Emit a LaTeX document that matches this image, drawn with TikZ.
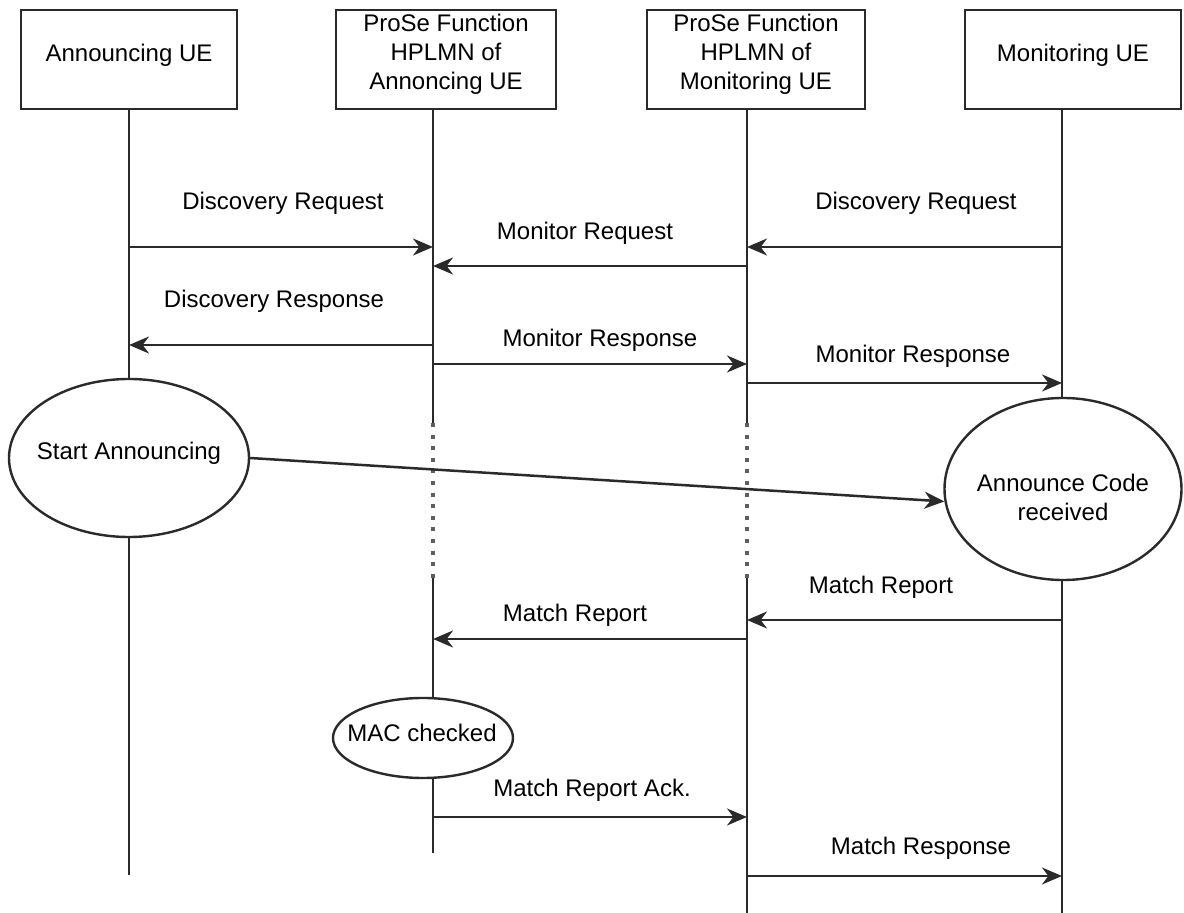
\documentclass[tikz,border=0pt]{standalone}
\usepackage{fontspec}
\setmainfont{Liberation Sans}
\usetikzlibrary{arrows.meta,shapes.geometric}
\definecolor{lc}{HTML}{2A2A2A}
\begin{document}
\begin{tikzpicture}[x=0.5pt,y=-0.5pt,
  txt/.style={font=\fontsize{12}{14.5}\selectfont, text=black, align=center, inner sep=0pt},
  box/.style={draw=lc, line width=1.25pt, rectangle, minimum width=#1, minimum height=49.5pt, inner sep=0pt},
  oval/.style={draw=lc, line width=1.2pt, ellipse, inner sep=0pt},
  life/.style={draw=lc, line width=1.25pt},
  dots/.style={draw=lc!75, line width=1.6pt, dash pattern=on 2pt off 3.8pt},
  msg/.style={draw=lc, line width=1.25pt, -{Stealth[length=10pt,width=8.5pt,inset=3.2pt]}}
]
\useasboundingbox (0,0) rectangle (1184,913);

% header boxes
\node[box=108pt] (b1) at (129,59.5) {};
\node[box=110pt] (b2) at (446,59.5) {};
\node[box=109pt] (b3) at (756,59.5) {};
\node[box=108pt] (b4) at (1073,59.5) {};
\node[txt] (t1) at (129,55) {Announcing UE};
\node[txt] (t2) at (446,54) {ProSe Function\\HPLMN of\\Annoncing UE};
\node[txt] (t3) at (756,54) {ProSe Function\\HPLMN of\\Monitoring UE};
\node[txt] (t4) at (1073,55) {Monitoring UE};

% state ellipses
\node[oval, minimum width=120pt, minimum height=79pt] (SA) at (129,458) {};
\node[txt] (tSA) at (129,453) {Start Announcing};
\node[oval, minimum width=118.5pt, minimum height=91pt] (AC) at (1063,489) {};
\node[txt] (tAC) at (1063,497) {Announce Code\\received};
\node[oval, minimum width=90pt, minimum height=40pt] (MAC) at (423,738) {};
\node[txt] (tMAC) at (422,733) {MAC checked};

% lifeline coordinates
\coordinate (L1end) at (129,875);
\coordinate (L2a) at (433,109);
\coordinate (L2b) at (433,423);
\coordinate (L2c) at (433,578);
\coordinate (L2d) at (433,853);
\coordinate (L3a) at (747,109);
\coordinate (L3b) at (747,423);
\coordinate (L3c) at (747,578);
\coordinate (L3d) at (747,913);
\coordinate (L4a) at (1062,109);
\coordinate (L4d) at (1062,913);

% lifelines
\draw[life] (b1.south) -- (SA.north);
\draw[life] (SA.south) -- (L1end);
\draw[life] (L2a) -- (L2b);
\draw[dots] (L2b) -- (L2c);
\draw[life] (L2c) -- (L2c |- MAC.north);
\draw[life] (L2c |- MAC.south) -- (L2d);
\draw[life] (L3a) -- (L3b);
\draw[dots] (L3b) -- (L3c);
\draw[life] (L3c) -- (L3d);
\draw[life] (L4a) -- (L4a |- AC.north);
\draw[life] (L4a |- AC.south) -- (L4d);

% message rows
\coordinate (y1) at (0,247);
\coordinate (y2) at (0,266);
\coordinate (y3) at (0,345);
\coordinate (y4) at (0,364);
\coordinate (y5) at (0,383);
\coordinate (y6) at (0,620);
\coordinate (y7) at (0,639);
\coordinate (y8) at (0,817);
\coordinate (y9) at (0,876);

\draw[msg] (L1end |- y1) -- (L2a |- y1);
\draw[msg] (L4a |- y1) -- (L3a |- y1);
\draw[msg] (L3a |- y2) -- (L2a |- y2);
\draw[msg] (L2a |- y3) -- (L1end |- y3);
\draw[msg] (L2a |- y4) -- (L3a |- y4);
\draw[msg] (L3a |- y5) -- (L4a |- y5);
\draw[msg] (SA.east) -- (AC.186);
\draw[msg] (L4a |- y6) -- (L3a |- y6);
\draw[msg] (L3a |- y7) -- (L2a |- y7);
\draw[msg] (L2a |- y8) -- (L3a |- y8);
\draw[msg] (L3a |- y9) -- (L4a |- y9);

% message labels
\node[txt] (m1) at (283,203) {Discovery Request};
\node[txt] (m2) at (916,203) {Discovery Request};
\node[txt] (m3) at (585,233) {Monitor Request};
\node[txt] (m4) at (274,301) {Discovery Response};
\node[txt] (m5) at (600,340) {Monitor Response};
\node[txt] (m6) at (913,356) {Monitor Response};
\node[txt] (m7) at (881,587) {Match Report};
\node[txt] (m8) at (575,615) {Match Report};
\node[txt] (m9) at (592,790) {Match Report Ack.};
\node[txt] (m10) at (921,848) {Match Response};
\end{tikzpicture}
\end{document}
